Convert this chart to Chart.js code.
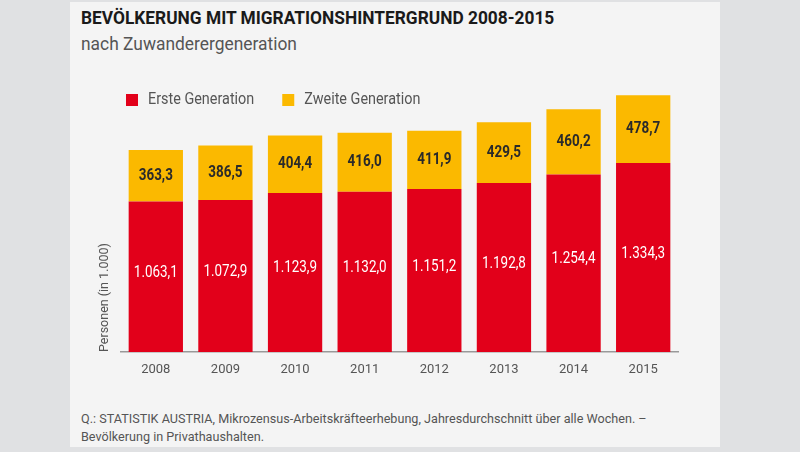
<!DOCTYPE html>
<html>
<head>
<meta charset="utf-8">
<script src="https://cdn.jsdelivr.net/npm/chart.js@4"></script>
<style>
  html, body { margin: 0; padding: 0; }
  body { width: 800px; height: 452px; background: #e0e1e3; position: relative; overflow: hidden;
         font-family: Roboto, sans-serif; }
  #card { position: absolute; left: 70px; top: 2px; width: 650px; height: 445px; background: #f4f4f4; }
  .txt { position: absolute; left: 81px; white-space: nowrap; transform-origin: 0 0; }
  #title { top: 6px; font-size: 19px; font-weight: bold; color: #1a1a1a; transform: scaleX(0.912); }
  #sub { top: 32px; font-size: 19px; color: #555; transform: scaleX(0.915); }
  #note { top: 409px; font-size: 13.5px; line-height: 18px; color: #555; transform: scaleX(0.935); }
  #wrap { position: absolute; left: 70px; top: 60px; width: 650px; height: 330px; }
</style>
</head>
<body>
<div id="card"></div>
<div id="title" class="txt">BEVÖLKERUNG MIT MIGRATIONSHINTERGRUND 2008-2015</div>
<div id="sub" class="txt">nach Zuwanderergeneration</div>
<div id="wrap"><canvas id="chart"></canvas></div>
<div id="note" class="txt">Q.: STATISTIK AUSTRIA, Mikrozensus-Arbeitskräfteerhebung, Jahresdurchschnitt über alle Wochen. –<br>Bevölkerung in Privathaushalten.</div>
<script>
var years = ["2008", "2009", "2010", "2011", "2012", "2013", "2014", "2015"];
var ersteGeneration = [1063.1, 1072.9, 1123.9, 1132.0, 1151.2, 1192.8, 1254.4, 1334.3];
var zweiteGeneration = [363.3, 386.5, 404.4, 416.0, 411.9, 429.5, 460.2, 478.7];

var fontFamily = "Roboto, sans-serif";

// german number format, 1.063,1
function fmt(v) {
  var parts = v.toFixed(1).split(".");
  var intPart = parts[0].replace(/\B(?=(\d{3})+(?!\d))/g, ".");
  return intPart + "," + parts[1];
}

// squeeze text horizontally to fake a condensed face
function narrowText(ctx, text, x, y, sx) {
  ctx.save();
  ctx.translate(x, y);
  ctx.scale(sx, 1);
  ctx.fillText(text, 0, 0);
  ctx.restore();
  return ctx.measureText(text).width * sx;
}

var labelPlugin = {
  id: "barLabels",
  afterDatasetsDraw: function (chart) {
    var ctx = chart.ctx;
    ctx.save();
    ctx.textAlign = "center";
    ctx.textBaseline = "middle";
    chart.data.datasets.forEach(function (ds, i) {
      var meta = chart.getDatasetMeta(i);
      ctx.fillStyle = i === 0 ? "#ffffff" : "#2a2a2a";
      ctx.font = (i === 0 ? "" : "bold ") + "16px " + fontFamily;
      meta.data.forEach(function (bar, j) {
        var y = i === 0 ? (bar.y + bar.base) / 2 - 4 : (bar.y + bar.base) / 2;
        narrowText(ctx, fmt(ds.data[j]), bar.x, y, 0.84);
      });
    });
    ctx.restore();
  }
};

// one-row legend drawn inside the plot area
var legendPlugin = {
  id: "rowLegend",
  afterDraw: function (chart) {
    var ctx = chart.ctx;
    var area = chart.chartArea;
    var x = area.left + 5;
    var y = area.top + 17;
    ctx.save();
    ctx.font = "16px " + fontFamily;
    ctx.textAlign = "left";
    ctx.textBaseline = "middle";
    chart.data.datasets.forEach(function (ds) {
      ctx.fillStyle = ds.backgroundColor;
      ctx.fillRect(x, y - 6, 12, 12);
      ctx.fillStyle = "#555";
      var w = narrowText(ctx, ds.label, x + 22, y, 0.9);
      x += 22 + w + 28;
    });
    ctx.restore();
  }
};

Chart.defaults.font.family = fontFamily;
Chart.defaults.color = "#555";

new Chart(document.getElementById("chart"), {
  type: "bar",
  data: {
    labels: years,
    datasets: [
      { label: "Erste Generation", data: ersteGeneration, backgroundColor: "#e2001a" },
      { label: "Zweite Generation", data: zweiteGeneration, backgroundColor: "#fbb900" }
    ]
  },
  options: {
    responsive: true,
    maintainAspectRatio: false,
    animation: false,
    layout: { padding: { left: 23, right: 42, top: 23, bottom: 0 } },
    datasets: { bar: { categoryPercentage: 1, barPercentage: 0.78 } },
    plugins: {
      legend: { display: false },
      tooltip: { enabled: false }
    },
    scales: {
      x: {
        stacked: true,
        grid: { display: false },
        border: { color: "#999", width: 1.5 },
        ticks: { font: { size: 13 }, color: "#555", padding: 2 },
        afterFit: function (s) { s.height = 38; }
      },
      y: {
        stacked: true,
        min: 0,
        max: 1900,
        grid: { display: false },
        border: { display: false },
        ticks: { display: false },
        title: { display: true, text: "Personen (in 1.000)", align: "start", font: { size: 12.5 }, color: "#555" },
        afterFit: function (s) { s.width = 28; }
      }
    }
  },
  plugins: [labelPlugin, legendPlugin]
});
</script>
</body>
</html>
